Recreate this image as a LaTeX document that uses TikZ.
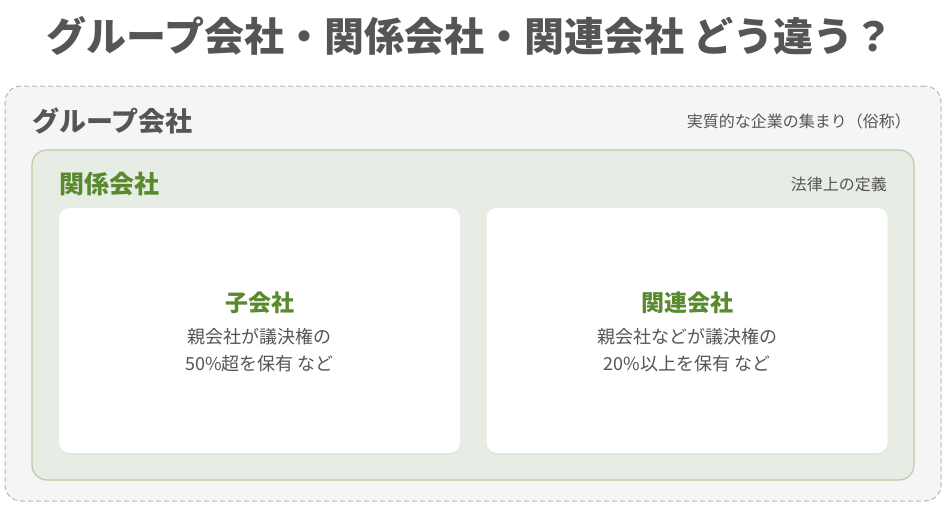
\documentclass[tikz,border=0pt]{standalone}
\usepackage{fontspec}
\setmainfont{Noto Sans CJK JP}
\usetikzlibrary{positioning}
\usetikzlibrary{shadows}

\definecolor{textgray}{HTML}{555555}
\definecolor{leafgreen}{HTML}{5A8A2E}
\definecolor{groupfill}{HTML}{F5F5F5}
\definecolor{groupline}{HTML}{B5B5B5}
\definecolor{kankeifill}{HTML}{E7ECE4}
\definecolor{kankeiline}{HTML}{BCCBA6}

\tikzset{
  headline/.style={font=\fontsize{40}{44}\selectfont\bfseries, text=textgray},
  groupbox/.style={draw=groupline, dashed, dash pattern=on 5pt off 3pt, line width=1pt,
    fill=groupfill, rounded corners=16pt, minimum width=936pt, minimum height=415pt},
  kankeibox/.style={draw=kankeiline, line width=1.2pt, fill=kankeifill,
    rounded corners=15pt, minimum width=882pt, minimum height=330pt},
  card/.style={fill=white, rounded corners=10pt, minimum width=401pt, minimum height=245pt,
    drop shadow={shadow xshift=0pt, shadow yshift=-1.5pt, opacity=0.08}},
  boxlabel/.style={font=\fontsize{#1}{#1}\selectfont\bfseries, inner sep=0pt},
  note/.style={font=\fontsize{16}{16}\selectfont, text=textgray, inner sep=0pt},
  cardtitle/.style={font=\fontsize{23}{23}\selectfont\bfseries, text=leafgreen, inner sep=0pt},
  cardtext/.style={font=\fontsize{18}{27}\selectfont, text=textgray, align=center, inner sep=0pt}
}

\begin{document}
\begin{tikzpicture}[x=1pt,y=-1pt]
  \useasboundingbox (0,0) rectangle (947,511);
  %% title
  \node[headline] (title) at (470,36) {グループ会社・関係会社・関連会社 どう違う？};
  %% nested boxes
  \node[groupbox] (group) at (473,293.5) {};
  \node[kankeibox] (kankei) at (473,315) {};
  \node[card] (ko) at (259.5,330.5) {};
  \node[card] (kanren) at (687,330.5) {};
  %% box labels
  \node[boxlabel=27, text=textgray, anchor=west] (grouptitle) at (32,121) {グループ会社};
  \node[note, anchor=east] (groupnote) at (911,121) {実質的な企業の集まり（俗称）};
  \node[boxlabel=25, text=leafgreen, anchor=west] (kankeititle) at (59,184) {関係会社};
  \node[note, anchor=east] (kankeinote) at (887,184) {法律上の定義};
  %% card contents
  \node[cardtitle] (kotitle) at (ko.center |- 0,303) {子会社};
  \node[cardtext, below=14pt of kotitle] (kotext) {親会社が議決権の\\50\%超を保有 など};
  \node[cardtitle] (kanrentitle) at (kanren.center |- 0,303) {関連会社};
  \node[cardtext, below=14pt of kanrentitle] (kanrentext) {親会社などが議決権の\\20\%以上を保有 など};
\end{tikzpicture}
\end{document}
